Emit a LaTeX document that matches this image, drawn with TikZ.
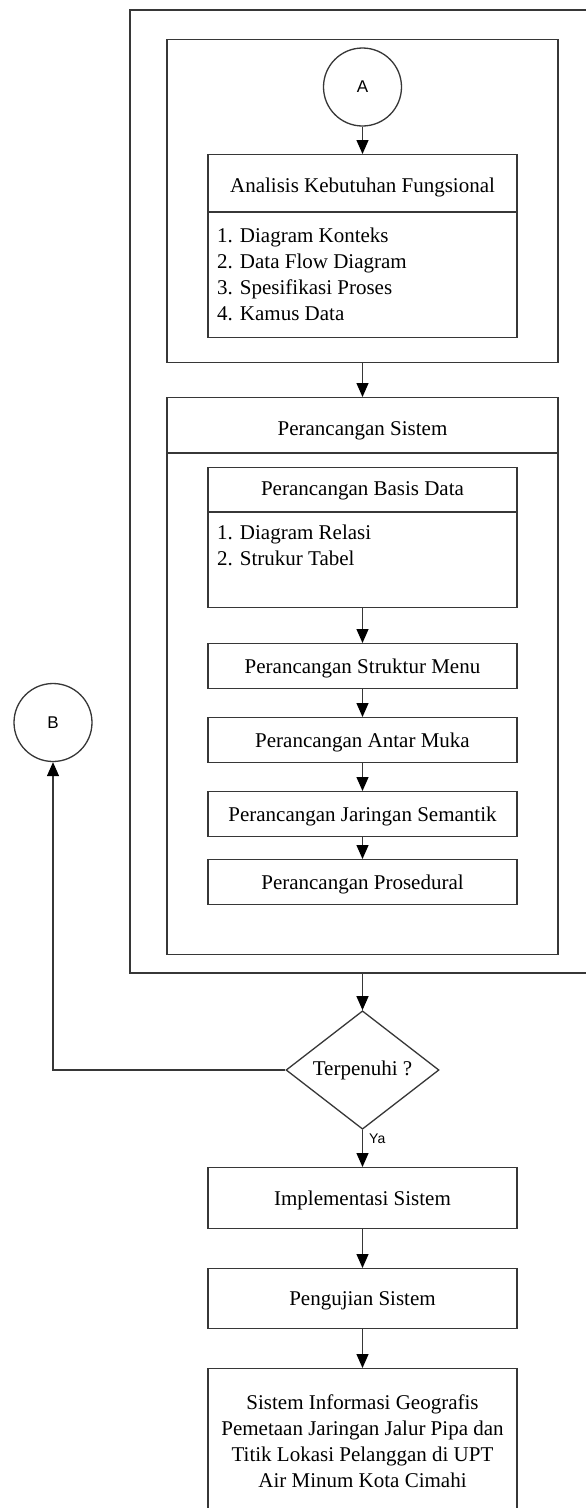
\documentclass[tikz,border=0pt]{standalone}
\usepackage{fontspec}
\setmainfont{Liberation Serif}
\newfontfamily\sansf{Liberation Sans}
\usetikzlibrary{arrows.meta,shapes.geometric}
\definecolor{linec}{RGB}{55,55,55}
\begin{document}
\begin{tikzpicture}[x=1pt,y=-1pt,
  ln/.style={draw=linec, line width=1.3pt},
  frame/.style={ln, rectangle, inner sep=0pt, anchor=north},
  box/.style={frame, minimum width=309pt, font=\fontsize{21}{26}\selectfont, text height=15pt, text depth=1pt},
  txt/.style={inner sep=0pt, font=\fontsize{21}{26}\selectfont},
  arr/.style={ln, -{Triangle[length=14pt,width=12pt,color=black]}},
  conn/.style={ln, circle, minimum size=78pt, inner sep=0pt, font=\sansf\fontsize{17}{20}\selectfont},
]
\useasboundingbox (0,0) rectangle (586,1508);
\clip (0,0) rectangle (586,1508);
\fill[white] (0,0) rectangle (586,1508);

% outer frame (right side beyond the page)
\draw[ln] (590,10) -- (130,10) -- (130,973) -- (590,973);
\coordinate (obot) at (362.5,973);

% first section
\node[frame, minimum width=391pt, minimum height=323pt] (fr1) at (362.5,39) {};
\node[conn] (cA) at (362.5,87) {A};
\node[frame, minimum width=309pt, minimum height=183pt] (ana) at (362.5,154) {};
\draw[ln] (208,212) -- (517,212);
\node[txt, anchor=base] (anaT) at (362.5,192.7) {Analisis Kebutuhan Fungsional};
\node[txt, anchor=base west] (a1) at (217,242.7) {1. Diagram Konteks};
\node[txt, anchor=base west] (a2) at (217,268.5) {2. Data Flow Diagram};
\node[txt, anchor=base west] (a3) at (217,294.3) {3. Spesifikasi Proses};
\node[txt, anchor=base west] (a4) at (217,320) {4. Kamus Data};

% second section
\node[frame, minimum width=391pt, minimum height=557pt] (fr2) at (362.5,397) {};
\draw[ln] (167,453) -- (558,453);
\node[txt, anchor=base] (fr2T) at (362.5,435) {Perancangan Sistem};

\node[frame, minimum width=309pt, minimum height=140pt] (bas) at (362.5,467) {};
\draw[ln] (208,512) -- (517,512);
\node[txt, anchor=base] (basT) at (362.5,495) {Perancangan Basis Data};
\node[txt, anchor=base west] (b1) at (217,539.3) {1. Diagram Relasi};
\node[txt, anchor=base west] (b2) at (217,565) {2. Strukur Tabel};

\node[box, minimum height=45pt] (menu) at (362.5,643) {Perancangan Struktur Menu};
\node[box, minimum height=45pt] (muka) at (362.5,717) {Perancangan Antar Muka};
\node[box, minimum height=45pt] (sem) at (362.5,791) {Perancangan Jaringan Semantik};
\node[box, minimum height=45pt] (pros) at (362.5,859) {Perancangan Prosedural};

% decision
\node[ln, diamond, minimum width=153pt, minimum height=116pt, inner sep=0pt,
      font=\fontsize{21}{26}\selectfont] (dia) at (362.5,1070) {Terpenuhi ?};
\node[conn] (cB) at (53,722.5) {B};
\node[anchor=base west, inner sep=0pt, font=\sansf\fontsize{14}{16}\selectfont] (ya) at (369,1143.3) {Ya};

\node[box, minimum height=61pt] (impl) at (362.5,1167) {Implementasi Sistem};
\node[box, minimum height=60pt] (uji) at (362.5,1268) {Pengujian Sistem};
\node[frame, minimum width=309pt, minimum height=146pt, align=center,
      font=\fontsize{21}{26}\selectfont] (fin) at (362.5,1368)
  {Sistem Informasi Geografis\\Pemetaan Jaringan Jalur Pipa dan\\Titik Lokasi Pelanggan di UPT\\Air Minum Kota Cimahi};

% connectors
\draw[arr] (cA.south) -- (ana.north);
\draw[arr] (fr1.south) -- (fr2.north);
\draw[arr] (bas.south) -- (menu.north);
\draw[arr] (menu.south) -- (muka.north);
\draw[arr] (muka.south) -- (sem.north);
\draw[arr] (sem.south) -- (pros.north);
\draw[arr] (obot) -- (dia.north);
\draw[arr] (dia.west) -| (cB.south);
\draw[arr] (dia.south) -- (impl.north);
\draw[arr] (impl.south) -- (uji.north);
\draw[arr] (uji.south) -- (fin.north);
\end{tikzpicture}
\end{document}
